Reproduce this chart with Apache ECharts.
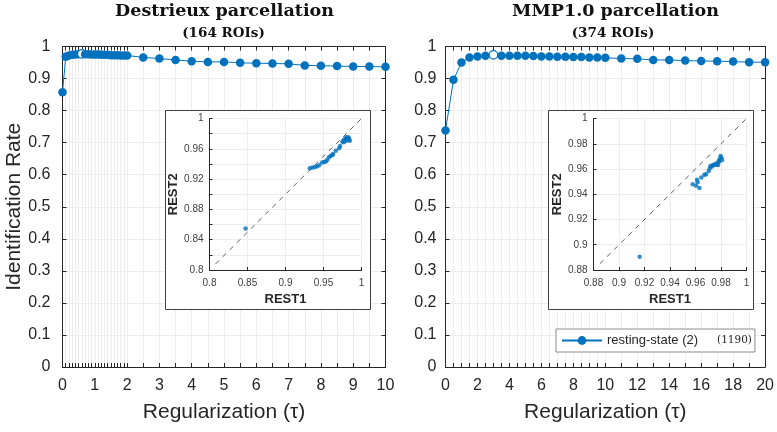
<!DOCTYPE html>
<html><head><meta charset="utf-8">
<script src="https://cdn.jsdelivr.net/npm/echarts@6/dist/echarts.min.js"></script>
<style>html,body{margin:0;padding:0;background:#fff}#c{width:777px;height:432px}</style>
</head><body><div id="c"></div>
<script>
// ---- data ----
const tauLeft = [0,0.1,0.2,0.3,0.4,0.5,0.6,0.7,0.8,0.9,1.0,1.1,1.2,1.3,1.4,1.5,1.6,1.7,1.8,1.9,2.0,
                 2.5,3,3.5,4,4.5,5,5.5,6,6.5,7,7.5,8,8.5,9,9.5,10];
const rateLeft = [0.857,0.968,0.972,0.974,0.975,0.976,0.977,0.976,0.976,0.975,0.975,0.975,0.974,0.974,0.974,0.973,0.973,0.973,0.972,0.972,0.972,
                  0.966,0.9625,0.958,0.954,0.952,0.952,0.949,0.948,0.947,0.946,0.941,0.940,0.939,0.9375,0.9375,0.9365];
const tauRight = [0,0.5,1,1.5,2,2.5,3,3.5,4,4.5,5,5.5,6,6.5,7,7.5,8,8.5,9,9.5,10,
                  11,12,13,14,15,16,17,18,19,20];
const rateRight = [0.738,0.896,0.950,0.966,0.969,0.971,0.974,0.971,0.971,0.971,0.971,0.970,0.969,0.969,0.968,0.968,0.967,0.967,0.966,0.966,0.965,
                   0.9625,0.9615,0.958,0.958,0.956,0.955,0.954,0.953,0.951,0.951];
const xLabelsLeft = [0,1,2,3,4,5,6,7,8,9,10];
const xLabelsRight = [0,2,4,6,8,10,12,14,16,18,20];

const rest1Left = [0.8475,0.9319,0.9354,0.9385,0.9415,0.9442,0.9481,0.9508,0.9530,0.9547,0.9569,0.9591,0.9618,0.9626,0.9662,0.9705,0.9719,0.9749,0.9767,0.9789,0.9802,0.9824,0.9837,0.9846,0.9829,0.9767,0.9793];
const rest2Left = [0.8547,0.9344,0.9352,0.9357,0.9370,0.9383,0.9418,0.9427,0.9431,0.9449,0.9484,0.9505,0.9519,0.9532,0.9575,0.9606,0.9637,0.9694,0.9716,0.9737,0.9751,0.9751,0.9737,0.9707,0.9716,0.9685,0.9702];
const rest1Right = [0.9162,0.9578,0.9604,0.9612,0.9617,0.9631,0.9646,0.9670,0.9683,0.9704,0.9712,0.9717,0.9730,0.9743,0.9756,0.9769,0.9777,0.9782,0.9790,0.9796,0.9803,0.9809,0.9788,0.9764,0.9738];
const rest2Right = [0.8905,0.9480,0.9467,0.9514,0.9496,0.9449,0.9533,0.9554,0.9559,0.9585,0.9606,0.9624,0.9619,0.9632,0.9640,0.9645,0.9632,0.9664,0.9680,0.9703,0.9690,0.9672,0.9659,0.9632,0.9632];
const diagLeft = [0.808, 1];
const diagRight = [0.885, 1];
const insetLeftXTicks = [0.8,0.85,0.9,0.95,1];
const insetLeftYLabels = [0.8,0.84,0.88,0.92,0.96,1];
const insetRightLabels = [0.88,0.9,0.92,0.94,0.96,0.98,1];

const seriesName = 'resting-state (2)';
const legendCount = '(1190)';
const titleLeft = 'Destrieux parcellation', subLeft = '(164 ROIs)';
const titleRight = 'MMP1.0 parcellation', subRight = '(374 ROIs)';

// ---- styles ----
const BLUE = '#0072BD';
const AXC = '#262626';
const GRIDC = '#ededed';
const SANS = 'Liberation Sans';
const SERIF = 'DejaVu Serif';

function markMax(xs, ys) {
  let m = 0; ys.forEach((v, i) => { if (v > ys[m]) m = i; });
  return xs.map((x, i) => i === m
    ? { value: [x, ys[i]], itemStyle: { color: '#fff', borderColor: BLUE, borderWidth: 1.2 } }
    : [x, ys[i]]);
}

function mainX(gi, max, ticks, labels) {
  return [{
    type: 'value', gridIndex: gi, min: 0, max: max, position: 'bottom',
    axisLine: { show: true, onZero: false, lineStyle: { color: AXC, width: 1 } },
    axisTick: { show: true, inside: true, length: 4, customValues: ticks, lineStyle: { color: AXC } },
    axisLabel: { show: true, customValues: labels, margin: 11, fontFamily: SANS, fontSize: 16, color: AXC },
    splitLine: { show: true, lineStyle: { color: GRIDC, width: 1 } },
    name: 'Regularization (τ)', nameLocation: 'middle', nameGap: 35,
    nameTextStyle: { fontFamily: SANS, fontSize: 21, color: AXC }
  }, {
    type: 'value', gridIndex: gi, min: 0, max: max, position: 'top',
    axisLine: { show: true, onZero: false, lineStyle: { color: AXC, width: 1 } },
    axisTick: { show: true, inside: true, length: 4, customValues: ticks, lineStyle: { color: AXC } },
    axisLabel: { show: false }, splitLine: { show: false }
  }];
}
function mainY(gi, margin, withName) {
  const a = {
    type: 'value', gridIndex: gi, min: 0, max: 1, interval: 0.1, position: 'left',
    axisLine: { show: true, onZero: false, lineStyle: { color: AXC, width: 1 } },
    axisTick: { show: true, inside: true, length: 4, lineStyle: { color: AXC } },
    axisLabel: { show: true, margin: margin, fontFamily: SANS, fontSize: 16, color: AXC },
    splitLine: { show: true, lineStyle: { color: GRIDC, width: 1 } }
  };
  if (withName) {
    a.name = 'Identification Rate'; a.nameLocation = 'middle'; a.nameGap = 38;
    a.nameTextStyle = { fontFamily: SANS, fontSize: 21, color: AXC };
  }
  return [a, {
    type: 'value', gridIndex: gi, min: 0, max: 1, interval: 0.1, position: 'right',
    axisLine: { show: true, onZero: false, lineStyle: { color: AXC, width: 1 } },
    axisTick: { show: true, inside: true, length: 4, lineStyle: { color: AXC } },
    axisLabel: { show: false }, splitLine: { show: false }
  }];
}
function insetX(gi, min, interval, labels) {
  return {
    type: 'value', gridIndex: gi, min: min, max: 1, interval: interval, z: 5,
    axisLine: { show: true, onZero: false, lineStyle: { color: AXC, width: 1 } },
    axisTick: { show: true, inside: true, length: 3, lineStyle: { color: AXC } },
    axisLabel: { show: true, customValues: labels, margin: 8, fontFamily: SANS, fontSize: 10, color: '#404040' },
    splitLine: { show: true, lineStyle: { color: GRIDC, width: 1 } },
    name: 'REST1', nameLocation: 'middle', nameGap: 23,
    nameTextStyle: { fontFamily: SANS, fontSize: 13, fontWeight: 'bold', color: AXC }
  };
}
function insetY(gi, min, interval, labels) {
  return {
    type: 'value', gridIndex: gi, min: min, max: 1, interval: interval, z: 5,
    axisLine: { show: true, onZero: false, lineStyle: { color: AXC, width: 1 } },
    axisTick: { show: true, inside: true, length: 3, lineStyle: { color: AXC } },
    axisLabel: { show: true, customValues: labels, margin: 6, fontFamily: SANS, fontSize: 10, color: '#404040' },
    splitLine: { show: true, lineStyle: { color: GRIDC, width: 1 } },
    name: 'REST2', nameLocation: 'middle', nameGap: 29,
    nameTextStyle: { fontFamily: SANS, fontSize: 13, fontWeight: 'bold', color: AXC }
  };
}
function mainSeries(xi, yi, xs, ys) {
  return {
    type: 'line', name: seriesName, xAxisIndex: xi, yAxisIndex: yi,
    data: markMax(xs, ys), symbol: 'circle', symbolSize: 8.5, z: 3,
    lineStyle: { color: BLUE, width: 1 }, itemStyle: { color: BLUE, borderWidth: 0 },
    emphasis: { disabled: true }
  };
}
function diagSeries(xi, d) {
  return {
    type: 'line', xAxisIndex: xi, yAxisIndex: xi, data: d.map(v => [v, v]),
    symbol: 'none', z: 6, silent: true,
    lineStyle: { color: '#333', width: 0.8, type: [5, 5] }
  };
}
function scatterSeries(xi, xs, ys) {
  return {
    type: 'scatter', xAxisIndex: xi, yAxisIndex: xi, data: xs.map((x, i) => [x, ys[i]]),
    symbol: 'circle', symbolSize: 4.5, z: 7, itemStyle: { color: BLUE }, silent: true
  };
}
function titleText(x, y, text, size) {
  return { type: 'text', x: x, y: y, z: 10,
    style: { text: text, align: 'center', verticalAlign: 'middle',
             font: 'bold ' + size + 'px "' + SERIF + '"', fill: '#111' } };
}
function insetBox(x, y, w, h) {
  return { type: 'rect', z: 3, shape: { x: x, y: y, width: w, height: h },
    style: { fill: '#fff', stroke: '#404040', lineWidth: 1 } };
}

const chart = echarts.init(document.getElementById('c'), null, { renderer: 'canvas' });
chart.setOption({
  animation: false,
  backgroundColor: '#fff',
  grid: [
    { left: 62.5, top: 46.5, width: 323, height: 320.5 },
    { left: 445.5, top: 46.5, width: 322, height: 320.5 },
    { left: 209.5, top: 118.5, width: 152, height: 151.5 },
    { left: 593.5, top: 118.5, width: 153, height: 151.5 }
  ],
  xAxis: [].concat(
    mainX(0, 10, tauLeft, xLabelsLeft),
    mainX(1, 20, tauRight, xLabelsRight),
    [insetX(2, 0.8, 0.05, insetLeftXTicks), insetX(3, 0.88, 0.02, insetRightLabels)]
  ),
  yAxis: [].concat(
    mainY(0, 12, true),
    mainY(1, 9, false),
    [insetY(2, 0.8, 0.02, insetLeftYLabels), insetY(3, 0.88, 0.02, insetRightLabels)]
  ),
  legend: {
    data: [seriesName], left: 556, top: 329, orient: 'horizontal',
    padding: [5, 3, 5, 5], itemWidth: 40, itemHeight: 11,
    borderColor: '#8c8c8c', borderWidth: 1, backgroundColor: '#fff', borderRadius: 0,
    selectedMode: false,
    formatter: n => '{a|' + n + '}{b|' + legendCount + '}',
    textStyle: { rich: {
      a: { fontFamily: SANS, fontSize: 13, color: AXC },
      b: { fontFamily: SERIF, fontSize: 10.5, color: AXC, padding: [0, 0, 0, 19] }
    } }
  },
  graphic: [
    insetBox(165.5, 110.5, 205, 199),
    insetBox(548.5, 110.5, 205, 199),
    titleText(224.5, 11.5, titleLeft, 17.5),
    titleText(223.5, 33.5, subLeft, 13.5),
    titleText(615.5, 11.5, titleRight, 17.5),
    titleText(613, 33.5, subRight, 13.5)
  ],
  series: [
    mainSeries(0, 0, tauLeft, rateLeft),
    mainSeries(2, 2, tauRight, rateRight),
    diagSeries(4, diagLeft),
    scatterSeries(4, rest1Left, rest2Left),
    diagSeries(5, diagRight),
    scatterSeries(5, rest1Right, rest2Right)
  ]
});
</script>
</body></html>
